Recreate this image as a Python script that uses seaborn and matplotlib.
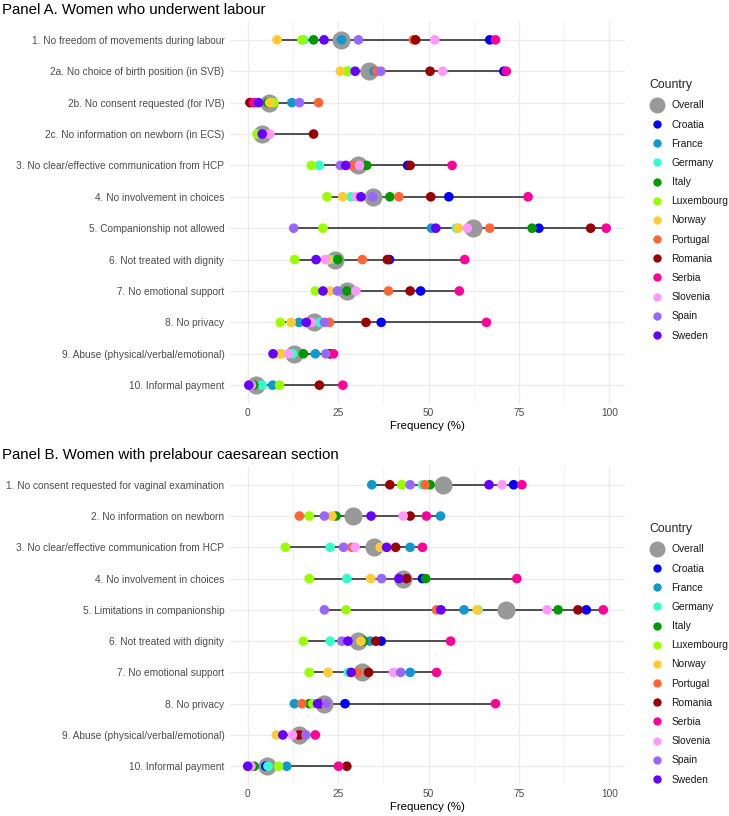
import numpy as np
import pandas as pd
import matplotlib
matplotlib.use("Agg")
import matplotlib.pyplot as plt
import seaborn as sns
from matplotlib.lines import Line2D

# ---------------- data ----------------
countries = ["Overall", "Croatia", "France", "Germany", "Italy", "Luxembourg", "Norway",
             "Portugal", "Romania", "Serbia", "Slovenia", "Spain", "Sweden"]
country_colors = ["#999999", "#0000FF", "#0F99CF", "#33FFCC", "#009900", "#99FF00", "#FFCC33",
                  "#FF6633", "#990000", "#FF0099", "#FF99FF", "#9966FF", "#6600FF"]

items_a = ["1. No freedom of movements during labour",
           "2a. No choice of birth position (in SVB)",
           "2b. No consent requested (for IVB)",
           "2c. No information on newborn (in ECS)",
           "3. No clear/effective communication from HCP",
           "4. No involvement in choices",
           "5. Companionship not allowed",
           "6. Not treated with dignity",
           "7. No emotional support",
           "8. No privacy",
           "9. Abuse (physical/verbal/emotional)",
           "10. Informal payment"]
nan = np.nan
overall_a    = [25.7, 33.5, 6.0, 4.0, 30.4, 34.7, 62.3, 24.0, 27.4, 18.4, 12.7, 2.4]
croatia_a    = [66.9, 70.8, nan, nan, 44.2, 55.6, 80.5, 39.2, 47.8, 36.9, nan, nan]
france_a     = [25.9, 34.9, 12.2, nan, nan, nan, 50.8, nan, nan, 14.2, 18.7, 6.9]
germany_a    = [15.4, 27.8, nan, nan, 19.8, 28.6, 57.7, 23.0, nan, 19.9, 12.4, 4.0]
italy_a      = [18.2, nan, 5.5, nan, 32.9, 39.3, 78.6, 24.9, 27.4, nan, 15.4, 1.7]
luxembourg_a = [15.0, 27.4, 7.2, 2.6, 17.6, 21.9, 20.8, 13.0, 18.7, 9.0, 9.2, 8.8]
norway_a     = [8.1, 25.6, 6.1, nan, nan, 26.3, 58.2, 22.3, 22.8, 12.0, 8.8, nan]
portugal_a   = [45.8, 35.7, 19.6, nan, 28.8, 41.8, 66.9, 31.7, 38.9, 22.6, 22.6, nan]
romania_a    = [46.4, 50.4, 0.6, 18.2, 44.9, 50.6, 94.8, 38.6, 44.9, 32.7, 22.8, 19.8]
serbia_a     = [68.5, 71.5, 1.7, nan, 56.5, 77.5, 99.1, 60.0, 58.5, 66.0, 23.7, 26.3]
slovenia_a   = [51.7, 53.9, nan, 6.1, 30.9, 30.0, 60.7, 21.4, 29.9, 17.6, 11.3, 1.0]
spain_a      = [30.6, 36.8, 14.3, nan, 25.6, 34.5, 12.7, nan, 24.8, 21.2, 21.6, nan]
sweden_a     = [21.1, 29.7, 3.0, 4.0, 27.1, 31.3, 52.0, 18.9, 20.8, 16.2, 7.0, 0.3]

items_b = ["1. No consent requested for vaginal examination",
           "2. No information on newborn",
           "3. No clear/effective communication from HCP",
           "4. No involvement in choices",
           "5. Limitations in companionship",
           "6. Not treated with dignity",
           "7. No emotional support",
           "8. No privacy",
           "9. Abuse (physical/verbal/emotional)",
           "10. Informal payment"]
overall_b    = [54.0, 29.0, 34.9, 43.0, 71.5, 30.4, 31.7, 21.0, 14.2, 5.3]
croatia_b    = [73.5, nan, nan, 48.3, 93.6, 36.9, nan, 26.9, nan, 5.0]
france_b     = [34.3, 53.3, 44.9, nan, 59.8, 33.8, 44.9, 12.9, nan, 10.8]
germany_b    = [48.3, nan, 22.8, 27.4, 63.7, 22.8, 27.8, nan, nan, 5.6]
italy_b      = [50.4, 24.4, nan, 49.2, 85.8, 32.0, nan, 17.0, nan, 1.8]
luxembourg_b = [42.6, 17.0, 10.4, 17.0, 27.2, 15.4, 17.0, 18.0, nan, 8.5]
norway_b     = [nan, 23.3, 36.6, 34.0, 63.4, 31.3, 22.2, nan, 7.9, nan]
portugal_b   = [49.0, 14.3, 28.8, nan, 52.2, nan, 30.4, 15.0, 15.0, nan]
romania_b    = [39.3, 44.9, 40.9, 43.9, 91.3, 35.4, 33.4, 20.0, 14.2, 27.4]
serbia_b     = [75.8, 49.4, 48.3, 74.4, 98.3, 56.1, 52.2, 68.5, 18.7, 25.1]
slovenia_b   = [70.3, 43.0, 29.7, nan, 82.8, nan, 40.3, 21.4, 12.4, 0.9]
spain_b      = [44.9, 21.2, 26.5, 37.0, 21.2, 26.0, 42.3, 21.7, 16.1, nan]
sweden_b     = [66.7, 34.1, 38.4, 41.8, 53.4, 27.7, 28.6, 19.3, 9.7, 0.0]

series_a = [overall_a, croatia_a, france_a, germany_a, italy_a, luxembourg_a, norway_a,
            portugal_a, romania_a, serbia_a, slovenia_a, spain_a, sweden_a]
series_b = [overall_b, croatia_b, france_b, germany_b, italy_b, luxembourg_b, norway_b,
            portugal_b, romania_b, serbia_b, slovenia_b, spain_b, sweden_b]

x_ticks = [0, 25, 50, 75, 100]

# ---------------- style ----------------
sns.set_theme(style="whitegrid")
plt.rcParams['font.family'] = ['Liberation Sans', 'DejaVu Sans']

palette = dict(zip(countries, country_colors))


def long_df(items, series):
    rows = []
    for c, vals in zip(countries, series):
        for i, (it, v) in enumerate(zip(items, vals)):
            if not np.isnan(v):
                rows.append({"item": it, "pos": i, "country": c, "value": v})
    return pd.DataFrame(rows)


fig = plt.figure(figsize=(7.29, 8.16), dpi=100)
W, H = 729, 816


def ax_rect(left, top, right, bottom):
    return [left / W, 1 - bottom / H, (right - left) / W, (bottom - top) / H]


panels = [
    (items_a, series_a, "Panel A. Women who underwent labour", ax_rect(230, 21, 625, 404), 10, 72),
    (items_b, series_b, "Panel B. Women with prelabour caesarean section", ax_rect(230, 466, 625, 785), 455, 516),
]

for items, series, title, rect, title_y, leg_y in panels:
    ax = fig.add_axes(rect)
    df = long_df(items, series)
    rng = df.groupby("pos")["value"].agg(["min", "max"])
    ax.hlines(rng.index, rng["min"], rng["max"], color="#333333", lw=1.2, zorder=2)
    sns.scatterplot(data=df[df.country == "Overall"], x="value", y="pos", color="#999999",
                    s=170, linewidth=0, ax=ax, legend=False, zorder=3)
    sns.scatterplot(data=df[df.country != "Overall"], x="value", y="pos", hue="country",
                    hue_order=countries[1:], palette=palette, s=48, linewidth=0, ax=ax,
                    legend=False, zorder=4)
    n = len(items)
    ax.set_ylim(n - 1 + 0.6, -0.6)
    ax.set_xlim(-4.9, 104.3)
    ax.set_yticks(range(n))
    ax.set_yticklabels(items)
    ax.set_xticks(x_ticks)
    ax.set_xticklabels([str(t) for t in x_ticks])
    ax.set_xticks([12.5, 37.5, 62.5, 87.5], minor=True)
    ax.grid(which="major", color="#EBEBEB", lw=0.9)
    ax.grid(which="minor", axis="x", color="#F3F3F3", lw=0.6)
    ax.set_axisbelow(True)
    for s in ax.spines.values():
        s.set_visible(False)
    ax.set_facecolor("white")
    ax.tick_params(axis="both", which="both", length=0, colors="#4D4D4D", labelsize=7.25)
    ax.tick_params(axis="y", pad=4)
    ax.tick_params(axis="x", pad=3)
    ax.set_ylabel("")
    ax.set_xlabel("Frequency (%)", fontsize=8.2, color="black", labelpad=2)
    fig.text(2 / W, 1 - title_y / H, title, fontsize=10.8, va="center", ha="left", color="black")

    handles = []
    for c, col in zip(countries, country_colors):
        ms = 11.5 if c == "Overall" else 6
        handles.append(Line2D([], [], marker="o", ls="", color=col, markersize=ms,
                              markeredgewidth=0))
    leg = fig.legend(handles, countries, loc="upper left",
                     bbox_to_anchor=(642 / W, 1 - leg_y / H), frameon=False,
                     title="Country", fontsize=7.35, title_fontsize=8.8,
                     labelspacing=0.9, handletextpad=0.6, handlelength=1.6,
                     borderpad=0.2, alignment="left")
    for t in leg.get_texts():
        t.set_color("#1A1A1A")

fig.savefig("out.png", dpi=100, facecolor="white")
